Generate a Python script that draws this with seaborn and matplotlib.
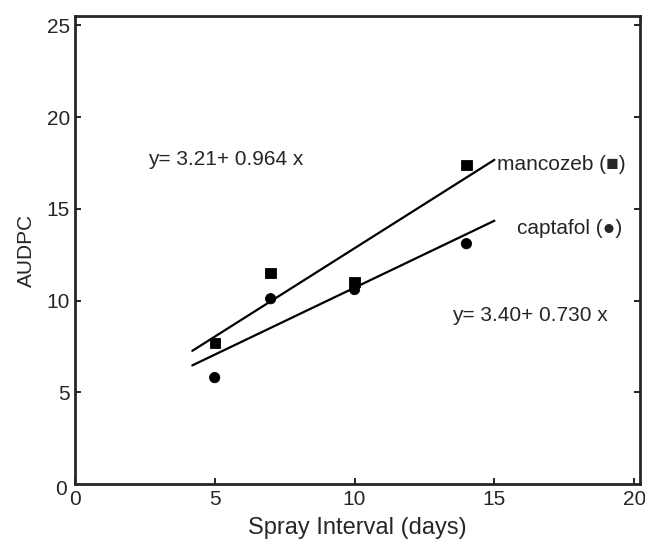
import numpy as np
import pandas as pd
import seaborn as sns
import matplotlib.pyplot as plt

# spray interval (days) and AUDPC
interval = [5, 7, 10, 14]
mancozeb = [7.7, 11.5, 11.0, 17.4]
captafol = [5.8, 10.1, 10.6, 13.1]

# fitted regression lines from the equations printed on the chart
fit_x = [4.2, 15.0]
mancozeb_fit = (3.21, 0.964)
captafol_fit = (3.40, 0.730)

sns.set_style("ticks")
plt.rcParams['font.family'] = ['Liberation Sans', 'DejaVu Sans']

pts = pd.DataFrame({'interval': interval * 2,
                    'AUDPC': mancozeb + captafol,
                    'fungicide': ['mancozeb'] * 4 + ['captafol'] * 4})
fits = pd.DataFrame({'interval': fit_x * 2,
                     'AUDPC': [mancozeb_fit[0] + mancozeb_fit[1] * x for x in fit_x] +
                              [captafol_fit[0] + captafol_fit[1] * x for x in fit_x],
                     'fungicide': ['mancozeb'] * 2 + ['captafol'] * 2})

fig = plt.figure(figsize=(6.45, 5.39), dpi=100)
ax = fig.add_axes([0.116, 0.102, 0.876, 0.868])

sns.lineplot(data=fits, x='interval', y='AUDPC', units='fungicide', estimator=None,
             color='black', linewidth=1.6, ax=ax, legend=False)
sns.scatterplot(data=pts, x='interval', y='AUDPC', style='fungicide',
                markers={'mancozeb': 's', 'captafol': 'o'}, color='black',
                s=55, edgecolor='black', ax=ax, legend=False)

ax.set_xlim(0, 20.2)
ax.set_ylim(0, 25.5)
ax.set_xticks([0, 5, 10, 15, 20])
ax.set_yticks([5, 10, 15, 20, 25])
ax.tick_params(direction='in', length=4, width=1.4, labelsize=15, right=True, labelright=False)
ax.tick_params(axis='x', pad=4)
for s in ax.spines.values():
    s.set_linewidth(2)

ax.text(-0.3, -0.3, '0', fontsize=15, ha='right', va='center')

ax.text(2.6, 17.7, 'y= 3.21+ 0.964 x', fontsize=15, va='center')
ax.text(15.1, 17.4, 'mancozeb (■)', fontsize=15, va='center')
ax.text(15.8, 13.9, 'captafol (●)', fontsize=15, va='center')
ax.text(13.5, 9.2, 'y= 3.40+ 0.730 x', fontsize=15, va='center')

ax.set_xlabel('Spray Interval (days)', fontsize=17, labelpad=6)
ax.set_ylabel('AUDPC', fontsize=15, labelpad=8)

plt.savefig('out.png', dpi=100)
